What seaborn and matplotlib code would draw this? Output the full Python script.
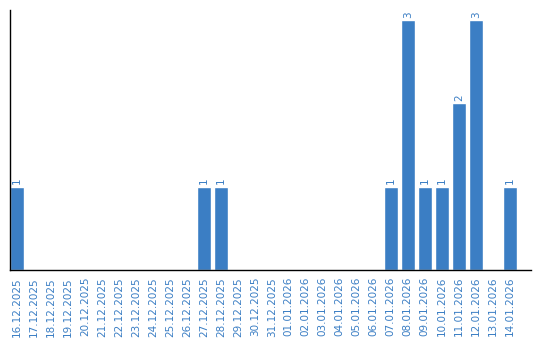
import matplotlib
matplotlib.use("Agg")
import matplotlib.pyplot as plt
import seaborn as sns
import pandas as pd

dates = ["16.12.2025", "17.12.2025", "18.12.2025", "19.12.2025", "20.12.2025",
         "21.12.2025", "22.12.2025", "23.12.2025", "24.12.2025", "25.12.2025",
         "26.12.2025", "27.12.2025", "28.12.2025", "29.12.2025", "30.12.2025",
         "31.12.2025", "01.01.2026", "02.01.2026", "03.01.2026", "04.01.2026",
         "05.01.2026", "06.01.2026", "07.01.2026", "08.01.2026", "09.01.2026",
         "10.01.2026", "11.01.2026", "12.01.2026", "13.01.2026", "14.01.2026"]
counts = [1, 0, 0, 0, 0, 0, 0, 0, 0, 0,
          0, 1, 1, 0, 0, 0, 0, 0, 0, 0,
          0, 0, 1, 3, 1, 1, 2, 3, 0, 1]

color = "#3b7ec4"
sns.set_style("white")
plt.rcParams['font.family'] = ['DejaVu Sans']

df = pd.DataFrame({"date": dates, "count": counts})
fig = plt.figure(figsize=(5.4, 3.4), dpi=100)
ax = fig.add_axes([10/540, 70/340, 521/540, 260/340])
sns.barplot(data=df, x="date", y="count", color=color, saturation=1, width=0.8, ax=ax)

for i, v in enumerate(counts):
    if v > 0:
        ax.text(i, v + 0.03, str(v), rotation=90, ha="center", va="bottom",
                color=color, fontsize=7.5)

ax.set_xlim(-0.4, 30.25)
ax.set_ylim(0, 3.12)
ax.set_xlabel("")
ax.set_ylabel("")
ax.set_yticks([])
ax.tick_params(axis="x", length=0, pad=5, labelsize=7.5, labelcolor=color, rotation=90)
for s in ["top", "right"]:
    ax.spines[s].set_visible(False)
for s in ["left", "bottom"]:
    ax.spines[s].set_color("black")
    ax.spines[s].set_linewidth(1)

fig.savefig("out.png", dpi=100)
